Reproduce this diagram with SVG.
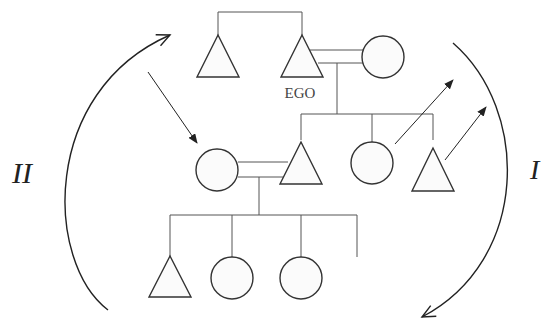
<svg xmlns="http://www.w3.org/2000/svg" width="544" height="320" viewBox="0 0 544 320">
<style>
.sh{fill:#fbfbfb;stroke:#333;stroke-width:1.4}
.ln{fill:none;stroke:#555;stroke-width:1}
.arc{fill:none;stroke:#222;stroke-width:1.4}
.ar{fill:none;stroke:#222;stroke-width:1}
.lbl{font-family:"Liberation Serif",serif;font-style:italic;fill:#222}
.ego{font-family:"Liberation Serif",serif;font-size:15px;fill:#444}
</style>
<defs>
<marker id="fa" markerWidth="10" markerHeight="8" refX="9" refY="4" orient="auto" markerUnits="userSpaceOnUse">
<path d="M0,0 L10,4 L0,8 Z" fill="#222"/>
</marker>
<marker id="oa" markerWidth="16" markerHeight="14" refX="14" refY="7" orient="auto" markerUnits="userSpaceOnUse">
<path d="M1,1 L14,7 L1,13" fill="none" stroke="#222" stroke-width="1.4"/>
</marker>
</defs>
<rect width="544" height="320" fill="#fff"/>
<g id="connectors">
<path class="ln" d="M218,35 V12 H302 V35"/>
<path class="ln" d="M310,50 H363 M318,63 H363"/>
<path class="ln" d="M337,63 V114 M301,114 H433 M301,114 V140 M372,114 V142 M433,114 V140"/>
<path class="ln" d="M238,162 H288 M238,177 H283"/>
<path class="ln" d="M259,177 V215 M170,215 H357 M170,215 V256 M232,215 V257 M301,215 V257 M357,215 V257"/>
<path class="ar" d="M148,72 L197,143" marker-end="url(#fa)"/>
<path class="ar" d="M395,144 L453,80" marker-end="url(#fa)"/>
<path class="ar" d="M445,160 L486,107" marker-end="url(#fa)"/>
<path class="arc" d="M108,310 C45,262 40,92 170,35" marker-end="url(#oa)"/>
<path class="arc" d="M453,43 C530,110 530,260 422,317" marker-end="url(#oa)"/>
</g>
<g id="uncle"><polygon class="sh" points="218,35 197,77 239,77"/></g>
<g id="ego"><polygon class="sh" points="302,35 281,77 323,77"/><text class="ego" x="300" y="98" text-anchor="middle">EGO</text></g>
<g id="wife"><circle class="sh" cx="383" cy="57" r="21"/></g>
<g id="son"><polygon class="sh" points="301,142 280,184 322,184"/></g>
<g id="daughter"><circle class="sh" cx="372" cy="163" r="21"/></g>
<g id="son2"><polygon class="sh" points="433,148 412,191 454,191"/></g>
<g id="daughter-in-law"><circle class="sh" cx="217" cy="170" r="21"/></g>
<g id="grandson"><polygon class="sh" points="170,256 149,297 191,297"/></g>
<g id="granddaughter1"><circle class="sh" cx="232" cy="278" r="21"/></g>
<g id="granddaughter2"><circle class="sh" cx="301" cy="278" r="21"/></g>
<text class="lbl" x="12" y="183" font-size="30">II</text>
<text class="lbl" x="530" y="179" font-size="28">I</text>
</svg>
